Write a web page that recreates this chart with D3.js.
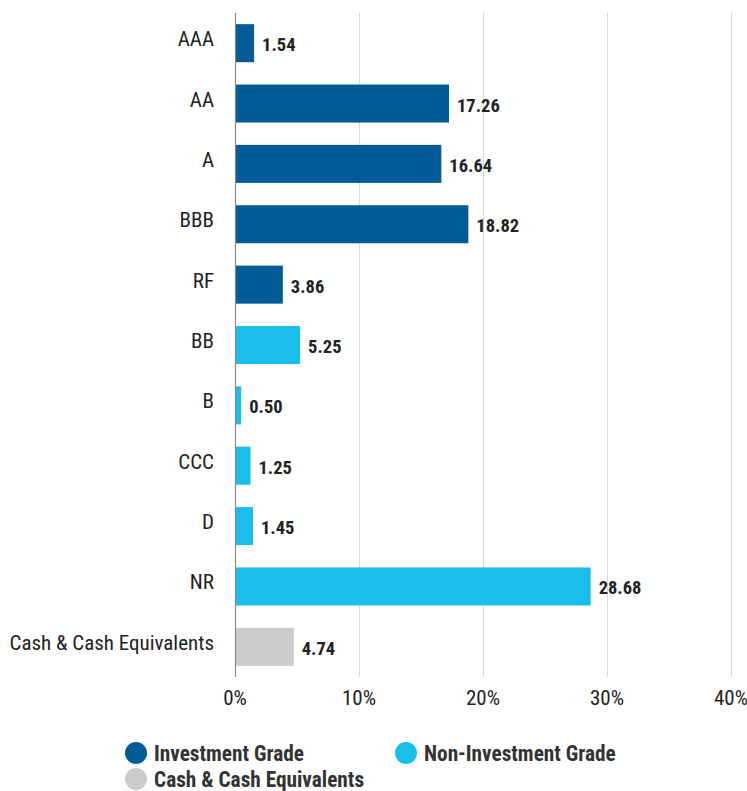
<!DOCTYPE html>
<html><head><meta charset="utf-8">
<script src="https://cdn.jsdelivr.net/npm/d3@7"></script>
<style>
body{margin:0;background:#fff;}
text{font-family:"Liberation Sans Narrow","Arial Narrow","Roboto Condensed","Liberation Sans",sans-serif;}
</style></head>
<body><svg id="c" width="747" height="791"></svg>
<script>
const categories = ["AAA","AA","A","BBB","RF","BB","B","CCC","D","NR","Cash & Cash Equivalents"];
const values = [1.54,17.26,16.64,18.82,3.86,5.25,0.50,1.25,1.45,28.68,4.74];
const groups = ["Investment Grade","Investment Grade","Investment Grade","Investment Grade","Investment Grade","Non-Investment Grade","Non-Investment Grade","Non-Investment Grade","Non-Investment Grade","Non-Investment Grade","Cash & Cash Equivalents"];
const seriesNames = ["Investment Grade","Non-Investment Grade","Cash & Cash Equivalents"];
const seriesColors = ["#035b98","#19bfea","#cccbc9"];
const ticks = [0,10,20,30,40];

const svg = d3.select("#c");
const x = d3.scaleLinear().domain([0,40]).range([235,731]);
const y = d3.scaleBand().domain(categories).range([13,677]).paddingInner(0.37).paddingOuter(0.185);
const color = d3.scaleOrdinal().domain(seriesNames).range(seriesColors);

// gridlines
svg.append("g").selectAll("line").data(ticks.slice(1)).join("line")
  .attr("x1",d=>x(d)+0.5).attr("x2",d=>x(d)+0.5).attr("y1",13).attr("y2",677)
  .attr("stroke","#d9d9d9").attr("stroke-width",1);

// bars
svg.append("g").selectAll("rect").data(categories).join("rect")
  .attr("x",x(0)).attr("y",d=>y(d)).attr("height",y.bandwidth())
  .attr("width",(d,i)=>x(values[i])-x(0)).attr("fill",(d,i)=>color(groups[i]));

// zero axis
svg.append("line").attr("x1",x(0)+0.5).attr("x2",x(0)+0.5).attr("y1",13).attr("y2",677)
  .attr("stroke","#8a8a8a").attr("stroke-width",1.2);

// value labels
svg.append("g").selectAll("text").data(categories).join("text")
  .attr("x",(d,i)=>x(values[i])+8).attr("y",(d,i)=>y(d)+y.bandwidth()/2+8)
  .attr("font-size",18.5).attr("font-weight","bold").attr("fill","#222")
  .text((d,i)=>values[i].toFixed(2));

// category labels
svg.append("g").selectAll("text").data(categories).join("text")
  .attr("x",214).attr("y",d=>y(d)+y.bandwidth()/2+3)
  .attr("text-anchor","end").attr("font-size",21).attr("fill","#222")
  .text(d=>d);

// x tick labels
svg.append("g").selectAll("text").data(ticks).join("text")
  .attr("x",d=>x(d)).attr("y",705).attr("text-anchor","middle")
  .attr("font-size",21).attr("fill","#222").text(d=>d+"%");

// legend
const legPos = [[136,753],[406,753],[136,779]];
const lg = svg.append("g").selectAll("g").data(seriesNames).join("g")
  .attr("transform",(d,i)=>`translate(${legPos[i][0]},${legPos[i][1]})`);
lg.append("circle").attr("r",11).attr("fill",d=>color(d));
lg.append("text").attr("x",18).attr("y",8).attr("font-size",21.3).attr("font-weight","bold")
  .attr("fill","#333").text(d=>d);
</script></body></html>
